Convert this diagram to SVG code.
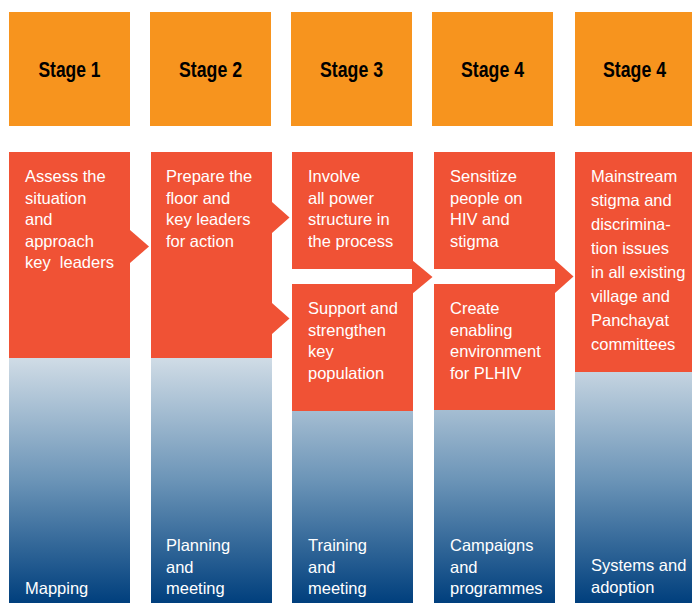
<svg xmlns="http://www.w3.org/2000/svg" width="692" height="603" viewBox="0 0 692 603">
<defs>
<linearGradient id="blue" gradientUnits="userSpaceOnUse" x1="0" y1="358" x2="0" y2="603">
<stop offset="0" stop-color="#d0dce6"/>
<stop offset="0.5" stop-color="#6b94b7"/>
<stop offset="1" stop-color="#003f7d"/>
</linearGradient>
<style>
.stage{fill:#f7941e}
.task{fill:#f05235}
.base{fill:url(#blue)}
.st{font-family:"Liberation Sans",Arial,sans-serif;font-weight:bold;font-size:22px;fill:#000;text-anchor:middle}
.tx{font-family:"Liberation Sans",Arial,sans-serif;font-size:16.5px;fill:#fff}
.arrow{fill:#f05235}
</style>
</defs>
<rect width="692" height="603" fill="#fff"/>

<g id="stage1"><rect class="stage" x="9" y="12" width="121" height="114"/><text class="st" x="69.5" y="77" textLength="62" lengthAdjust="spacingAndGlyphs">Stage 1</text></g>
<g id="stage2"><rect class="stage" x="150" y="12" width="121" height="114"/><text class="st" x="210.5" y="77" textLength="63" lengthAdjust="spacingAndGlyphs">Stage 2</text></g>
<g id="stage3"><rect class="stage" x="291" y="12" width="121" height="114"/><text class="st" x="351.5" y="77" textLength="63" lengthAdjust="spacingAndGlyphs">Stage 3</text></g>
<g id="stage4a"><rect class="stage" x="432" y="12" width="121" height="114"/><text class="st" x="492.5" y="77" textLength="63" lengthAdjust="spacingAndGlyphs">Stage 4</text></g>
<g id="stage4b"><rect class="stage" x="575" y="12" width="117" height="114"/><text class="st" x="634.5" y="77" textLength="63" lengthAdjust="spacingAndGlyphs">Stage 4</text></g>

<g id="mapping"><rect class="base" x="9" y="358" width="121" height="245"/><text class="tx" x="25" y="594">Mapping</text></g>
<g id="planning"><rect class="base" x="151" y="358" width="121" height="245"/><text class="tx" x="166"><tspan x="166" y="551">Planning</tspan><tspan x="166" y="572.5">and</tspan><tspan x="166" y="594">meeting</tspan></text></g>
<g id="training"><rect class="base" x="292" y="411" width="121" height="192"/><text class="tx"><tspan x="308" y="551">Training</tspan><tspan x="308" y="572.5">and</tspan><tspan x="308" y="594">meeting</tspan></text></g>
<g id="campaigns"><rect class="base" x="434" y="410" width="121" height="193"/><text class="tx"><tspan x="450" y="551">Campaigns</tspan><tspan x="450" y="572.5">and</tspan><tspan x="450" y="594">programmes</tspan></text></g>
<g id="systems"><rect class="base" x="575" y="372" width="117" height="231"/><text class="tx"><tspan x="591" y="570.5">Systems and</tspan><tspan x="591" y="593">adoption</tspan></text></g>

<g id="assess"><rect class="task" x="9" y="152" width="121" height="206"/><text class="tx" xml:space="preserve"><tspan x="25" y="182">Assess the</tspan><tspan x="25" y="203.5">situation</tspan><tspan x="25" y="225">and</tspan><tspan x="25" y="246.5">approach</tspan><tspan x="25" y="268">key  leaders</tspan></text></g>
<g id="prepare"><rect class="task" x="151" y="152" width="121" height="206"/><text class="tx"><tspan x="166" y="182">Prepare the</tspan><tspan x="166" y="203.5">floor and</tspan><tspan x="166" y="225">key leaders</tspan><tspan x="166" y="246.5">for action</tspan></text></g>
<g id="involve"><rect class="task" x="292" y="152" width="121" height="117"/><text class="tx"><tspan x="308" y="182">Involve</tspan><tspan x="308" y="203.5">all power</tspan><tspan x="308" y="225">structure in</tspan><tspan x="308" y="246.5">the process</tspan></text></g>
<g id="support"><rect class="task" x="292" y="284" width="121" height="127"/><text class="tx"><tspan x="308" y="314">Support and</tspan><tspan x="308" y="335.5">strengthen</tspan><tspan x="308" y="357">key</tspan><tspan x="308" y="378.5">population</tspan></text></g>
<g id="sensitize"><rect class="task" x="434" y="152" width="121" height="117"/><text class="tx"><tspan x="450" y="182">Sensitize</tspan><tspan x="450" y="203.5">people on</tspan><tspan x="450" y="225">HIV and</tspan><tspan x="450" y="246.5">stigma</tspan></text></g>
<g id="create"><rect class="task" x="434" y="284" width="121" height="126"/><text class="tx"><tspan x="450" y="314">Create</tspan><tspan x="450" y="335.5">enabling</tspan><tspan x="450" y="357">environment</tspan><tspan x="450" y="378.5">for PLHIV</tspan></text></g>
<g id="mainstream"><rect class="task" x="575" y="152" width="117" height="220"/><text class="tx"><tspan x="591" y="182">Mainstream</tspan><tspan x="591" y="206">stigma and</tspan><tspan x="591" y="230">discrimina-</tspan><tspan x="591" y="254">tion issues</tspan><tspan x="591" y="278">in all existing</tspan><tspan x="591" y="302">village and</tspan><tspan x="591" y="326">Panchayat</tspan><tspan x="591" y="350">committees</tspan></text></g>

<g id="connectors">
<polygon class="arrow" points="130,230 149,246.5 130,263"/>
<polygon class="arrow" points="272,202 289.5,217.5 272,233"/>
<polygon class="arrow" points="272,303 289.5,318.5 272,334"/>
<polygon class="arrow" points="412,260 432.5,277 412,294"/>
<polygon class="arrow" points="555,260 573.5,276.5 555,293"/>
</g>
</svg>
